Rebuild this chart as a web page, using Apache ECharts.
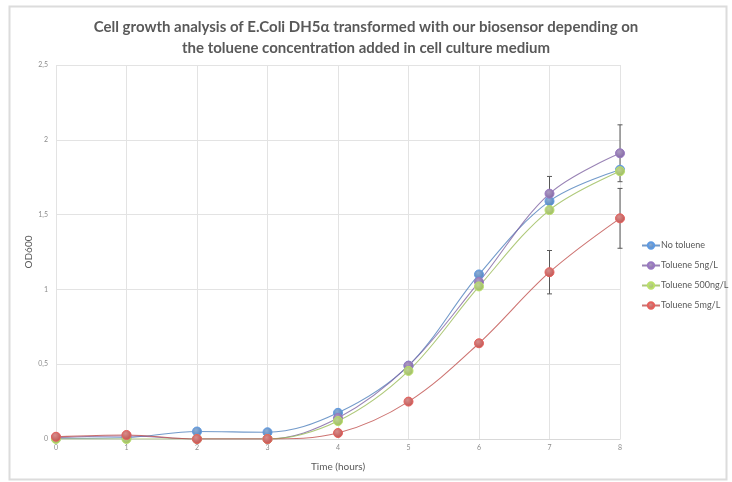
<!DOCTYPE html>
<html>
<head>
<meta charset="utf-8">
<script src="https://cdn.jsdelivr.net/npm/echarts@6/dist/echarts.min.js"></script>
<style>
  html, body { margin: 0; padding: 0; background: #fff; }
  #growthChart { width: 732px; height: 482px; }
</style>
</head>
<body>
<div id="growthChart"></div>
<script>
// time points (hours)
const hours = [0, 1, 2, 3, 4, 5, 6, 7, 8];
const yTicks = [0, 0.5, 1, 1.5, 2, 2.5];

// OD600 readings
const noToluene   = [0.005, 0.01, 0.05, 0.045, 0.175, 0.49, 1.10, 1.59, 1.80];
const toluene5ng  = [0.01, 0.02, 0.0, 0.0, 0.14, 0.49, 1.05, 1.64, 1.91];
const toluene500ng = [0.0, 0.0, 0.0, 0.0, 0.12, 0.455, 1.02, 1.53, 1.79];
const toluene5mg  = [0.015, 0.027, 0.0, 0.0, 0.04, 0.25, 0.64, 1.115, 1.475];

// standard deviations (only the visible ones)
const err5ng = [0, 0, 0, 0, 0, 0, 0, 0.115, 0.19];
const err5mg = [0, 0, 0, 0, 0, 0, 0, 0.145, 0.20];

const seriesNames = ['No toluene', 'Toluene 5ng/L', 'Toluene 500ng/L', 'Toluene 5mg/L'];
const seriesColors = ['#4f81bd', '#8064a2', '#9bbb59', '#c0504d'];

function toPairs(values) {
    return values.map(function (v, i) { return [hours[i], v]; });
}

function errorData(values, errs) {
    const out = [];
    values.forEach(function (v, i) {
        if (errs[i] > 0) out.push([hours[i], v - errs[i], v + errs[i]]);
    });
    return out;
}

function renderErrorBar(params, api) {
    const top = api.coord([api.value(0), api.value(2)]);
    const bottom = api.coord([api.value(0), api.value(1)]);
    const cap = 2.5;
    const style = { stroke: '#595959', lineWidth: 1 };
    return {
        type: 'group',
        children: [
            { type: 'line', shape: { x1: top[0], y1: top[1], x2: bottom[0], y2: bottom[1] }, style: style },
            { type: 'line', shape: { x1: top[0] - cap, y1: top[1], x2: top[0] + cap, y2: top[1] }, style: style },
            { type: 'line', shape: { x1: bottom[0] - cap, y1: bottom[1], x2: bottom[0] + cap, y2: bottom[1] }, style: style }
        ]
    };
}

function lineSeries(name, values, color) {
    return {
        name: name,
        type: 'line',
        data: toPairs(values),
        smooth: 0.35,
        symbol: 'circle',
        symbolSize: 9,
        lineStyle: { color: color, width: 1.1, opacity: 0.8 },
        itemStyle: {
            color: {
                type: 'radial', x: 0.4, y: 0.35, r: 0.7,
                colorStops: [
                    { offset: 0, color: echarts.color.lift(color, 0.35) },
                    { offset: 1, color: color }
                ]
            },
            borderColor: echarts.color.lift(color, -0.2),
            borderWidth: 1
        },
        z: 3
    };
}

const chart = echarts.init(document.getElementById('growthChart'));

const option = {
    animation: false,
    backgroundColor: '#ffffff',
    color: seriesColors,
    title: {
        text: 'Cell growth analysis of E.Coli DH5α transformed with our biosensor depending on\nthe toluene concentration added in cell culture medium',
        left: 'center',
        top: 12,
        textStyle: {
            fontFamily: 'Lato',
            fontSize: 15,
            fontWeight: 'bold',
            color: '#595959',
            lineHeight: 21
        }
    },
    legend: {
        orient: 'vertical',
        left: 636,
        top: 236,
        itemGap: 11,
        itemWidth: 18,
        itemHeight: 8,
        data: seriesNames,
        textStyle: { fontFamily: 'Lato', fontSize: 9, color: '#595959', padding: [0, 0, 0, -4] }
    },
    grid: {
        left: 56,
        right: 112,
        top: 65,
        bottom: 43
    },
    xAxis: {
        type: 'value',
        min: 0,
        max: 8,
        interval: 1,
        name: 'Time (hours)',
        nameLocation: 'middle',
        nameGap: 23,
        nameTextStyle: { fontFamily: 'Lato', fontSize: 10, color: '#595959' },
        axisLine: { lineStyle: { color: '#d9d9d9' } },
        axisTick: { show: false },
        axisLabel: { fontFamily: 'Lato', fontSize: 7, color: '#8c8c8c', margin: 5 },
        splitLine: { show: true, lineStyle: { color: '#e3e3e3' } }
    },
    yAxis: {
        type: 'value',
        min: 0,
        max: 2.5,
        interval: 0.5,
        name: 'OD600',
        nameLocation: 'middle',
        nameGap: 22,
        nameMoveOverlap: false,
        nameTextStyle: { fontFamily: 'Lato', fontSize: 10, color: '#595959' },
        axisLine: { show: false },
        axisTick: { show: false },
        axisLabel: {
            fontFamily: 'Lato',
            fontSize: 7,
            color: '#8c8c8c',
            margin: 8,
            formatter: function (v) {
                return yTicks.indexOf(v) >= 0 ? String(v).replace('.', ',') : '';
            }
        },
        splitLine: { lineStyle: { color: '#e3e3e3' } }
    },
    graphic: [{
        type: 'rect',
        shape: { x: 9.5, y: 6.5, width: 717, height: 473 },
        style: { fill: 'none', stroke: '#dcdcdc', lineWidth: 2 },
        silent: true,
        z: -10
    }],
    series: [
        {
            type: 'custom',
            name: 'err5ng',
            renderItem: renderErrorBar,
            data: errorData(toluene5ng, err5ng),
            encode: { x: 0, y: [1, 2] },
            z: 2
        },
        {
            type: 'custom',
            name: 'err5mg',
            renderItem: renderErrorBar,
            data: errorData(toluene5mg, err5mg),
            encode: { x: 0, y: [1, 2] },
            z: 2
        },
        lineSeries(seriesNames[0], noToluene, seriesColors[0]),
        lineSeries(seriesNames[1], toluene5ng, seriesColors[1]),
        lineSeries(seriesNames[2], toluene500ng, seriesColors[2]),
        lineSeries(seriesNames[3], toluene5mg, seriesColors[3])
    ]
};

chart.setOption(option);

window.addEventListener('resize', function () {
    chart.resize();
});
</script>
</body>
</html>
